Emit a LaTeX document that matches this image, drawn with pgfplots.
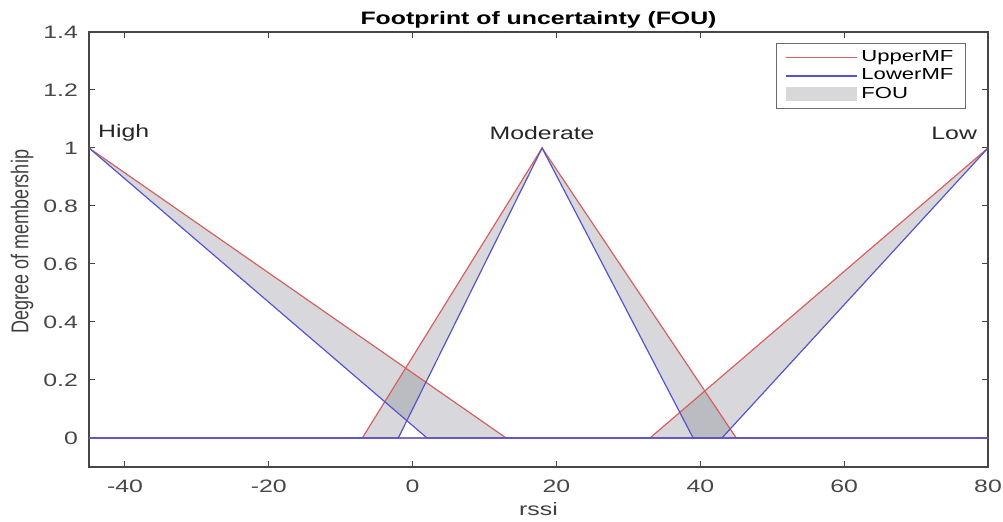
\documentclass[border=0pt]{standalone}
\usepackage{pgfplots}
\pgfplotsset{compat=1.18}
\usepackage{fontspec}
\setmainfont{Liberation Sans}[FakeStretch=1.38]
\newfontfamily\plainfont{Liberation Sans}
\usetikzlibrary{calc}

\definecolor{upcol}{RGB}{214,96,96}
\definecolor{locol}{RGB}{84,84,204}
\definecolor{axcol}{RGB}{70,70,70}
\definecolor{foucol}{RGB}{100,100,115}

\pgfplotsset{
    upleg/.style={legend image code/.code={\path[draw=upcol, line width=0.8pt] (0pt,0pt) -- (35.5pt,0pt);}},
    loleg/.style={legend image code/.code={\path[draw=locol, line width=0.8pt] (0pt,0pt) -- (35.5pt,0pt);}},
    arealeg/.style={legend image code/.code={\path[draw=none, fill=foucol, fill opacity=0.25] (0pt,-3.5pt) rectangle (35.5pt,3.5pt);}},
}

\begin{document}
\begin{tikzpicture}
\begin{axis}[
    scale only axis,
    width=449.5pt, height=217.5pt,
    xmin=-45, xmax=80, ymin=-0.1, ymax=1.4,
    xtick={-40,-20,0,20,40,60,80},
    ytick={0,0.2,0.4,0.6,0.8,1,1.2,1.4},
    tick align=inside,
    major tick length=3pt,
    axis line style={axcol, line width=0.6pt},
    every tick/.style={axcol, line width=0.5pt},
    tick label style={font=\fontsize{9}{11}\selectfont, text=black!72},
    xticklabel style={yshift=-3pt},
    yticklabel style={xshift=-2pt},
    /pgf/number format/assume math mode=true,
    every axis title shift=0pt,
    title={Footprint of uncertainty (FOU)},
    title style={font=\fontsize{9}{11}\selectfont\bfseries, at={(0.5,1)}, anchor=base, yshift=3.5pt},
    xlabel={rssi},
    ylabel={\scalebox{1}[1.35]{\plainfont\fontsize{9}{11}\selectfont Degree of membership}},
    label style={font=\fontsize{9}{11}\selectfont, text=black!75},
    xlabel style={yshift=2pt},
    ylabel style={at={(0,0.5)}, anchor=center, yshift=33.5pt, xshift=4pt},
    legend style={
        at={(0.9755,0.975)}, anchor=north east,
        draw=axcol!80, line width=0.5pt,
        font=\fontsize{8}{10}\selectfont,
        inner xsep=4pt, inner ysep=1.5pt, row sep=-1.8pt,
        cells={anchor=west},
    },
    legend cell align=left,
]

% FOU regions
\addplot[fill=foucol, fill opacity=0.25, draw=none, forget plot]
    coordinates {(-45,1) (13,0) (2,0)} -- cycle;
\addplot[fill=foucol, fill opacity=0.25, draw=none, forget plot]
    coordinates {(-7,0) (18,1) (45,0) (39,0) (18,1) (-2,0)} -- cycle;
\addplot[fill=foucol, fill opacity=0.25, draw=none, forget plot]
    coordinates {(33,0) (80,1) (43,0)} -- cycle;

% upper MFs
\addplot[upcol, line width=0.6pt, forget plot]
    coordinates {(-45,1) (13,0) (80,0)};
\addplot[upcol, line width=0.6pt, forget plot]
    coordinates {(-45,0) (-7,0) (18,1) (45,0) (80,0)};
\addplot[upcol, line width=0.6pt, forget plot]
    coordinates {(-45,0) (33,0) (80,1)};

% lower MFs
\addplot[locol, line width=0.6pt, forget plot]
    coordinates {(-45,1) (2,0) (80,0)};
\addplot[locol, line width=0.6pt, forget plot]
    coordinates {(-45,0) (-2,0) (18,1) (39,0) (80,0)};
\addplot[locol, line width=0.6pt, forget plot]
    coordinates {(-45,0) (43,0) (80,1)};

\addlegendimage{upleg}
\addlegendentry{UpperMF}
\addlegendimage{loleg}
\addlegendentry{LowerMF}
\addlegendimage{arealeg}
\addlegendentry{FOU}

\node[anchor=west, font=\fontsize{9}{11}\selectfont, text=black!85]
    at (axis cs:-45,1.052) [xshift=1pt] {High};
\node[font=\fontsize{9}{11}\selectfont, text=black!85]
    at (axis cs:18,1.052) {Moderate};
\node[anchor=east, font=\fontsize{9}{11}\selectfont, text=black!85]
    at (axis cs:80,1.052) [xshift=-2pt] {Low};

\coordinate (sw) at (rel axis cs:0,0);
\coordinate (ne) at (rel axis cs:1,1);
\end{axis}
\pgfresetboundingbox
\path ($(sw)+(-44.5pt,-27.5pt)$) rectangle ($(ne)+(7.5pt,16pt)$);
\end{tikzpicture}
\end{document}
